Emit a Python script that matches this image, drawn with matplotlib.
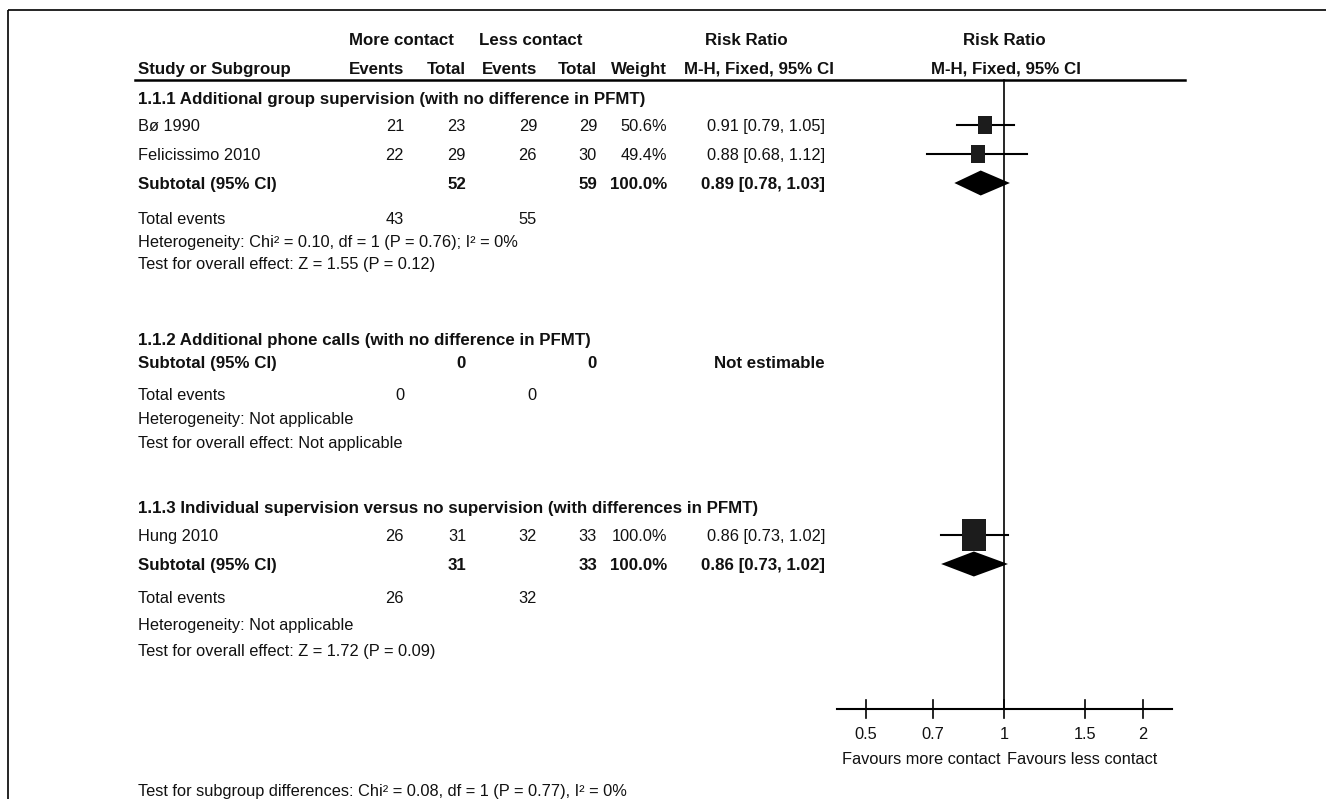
import numpy as np
import matplotlib
matplotlib.use("Agg")
import matplotlib.pyplot as plt
from matplotlib.path import Path
from matplotlib.patches import Polygon

plt.rcParams['font.family'] = ['Liberation Sans', 'DejaVu Sans']

# ---- data -------------------------------------------------------------
studies = ["Bø 1990", "Felicissimo 2010", "Hung 2010"]
study_group = [0, 0, 2]
events_more = [21, 22, 26]
total_more = [23, 29, 31]
events_less = [29, 26, 32]
total_less = [29, 30, 33]
study_weight = [50.6, 49.4, 100.0]
study_rr = [0.91, 0.88, 0.86]
study_lo = [0.79, 0.68, 0.73]
study_hi = [1.05, 1.12, 1.02]

group_titles = [
    "1.1.1 Additional group supervision (with no difference in PFMT)",
    "1.1.2 Additional phone calls (with no difference in PFMT)",
    "1.1.3 Individual supervision versus no supervision (with differences in PFMT)",
]
group_total_more = [52, 0, 31]
group_total_less = [59, 0, 33]
group_events_more = [43, 0, 26]
group_events_less = [55, 0, 32]
group_weight = ["100.0%", "", "100.0%"]
group_rr = [0.89, None, 0.86]
group_lo = [0.78, None, 0.73]
group_hi = [1.03, None, 1.02]
group_heterogeneity = [
    "Heterogeneity: Chi² = 0.10, df = 1 (P = 0.76); I² = 0%",
    "Heterogeneity: Not applicable",
    "Heterogeneity: Not applicable",
]
group_effect = [
    "Test for overall effect: Z = 1.55 (P = 0.12)",
    "Test for overall effect: Not applicable",
    "Test for overall effect: Z = 1.72 (P = 0.09)",
]
subgroup_test = "Test for subgroup differences: Chi² = 0.08, df = 1 (P = 0.77), I² = 0%"

axis_ticks = [0.5, 0.7, 1, 1.5, 2]
axis_ticklabels = ["0.5", "0.7", "1", "1.5", "2"]
favours_left = "Favours more contact"
favours_right = "Favours less contact"

# ---- layout (pixels) --------------------------------------------------
W, H = 1326, 799
FS_REG = 11.8
FS_BOLD = 12.2
x_label = 138
x_ev_more, x_tot_more = 404, 466
x_ev_less, x_tot_less = 537, 597
x_weight = 667
x_rr_right = 825
y_head1, y_head2, y_rule = 39, 68, 80
group_rows = [
    dict(head=98, studies=[125, 154], sub=183, te=218, het=241, eff=263),
    dict(head=339, studies=[], sub=362, te=394, het=418, eff=442),
    dict(head=507, studies=[535], sub=564, te=597, het=624, eff=650),
]
y_axis = 709
y_subgroup = 790

# forest panel: 1.0 at x=1004 px, one doubling = 138.5 px
px_one, px_per_log2 = 1004, 138.5
xlo, xhi = 0.4, 2.5
def px(v):
    return px_one + px_per_log2 * np.log2(v)

fig = plt.figure(figsize=(W / 100, H / 100), dpi=100)
tab = fig.add_axes([0, 0, 1, 1])
tab.set_xlim(0, W)
tab.set_ylim(H, 0)
tab.axis("off")

fx0, fx1 = px(xlo), px(xhi)
fp = fig.add_axes([fx0 / W, 0, (fx1 - fx0) / W, 1])
fp.set_xscale("log")
fp.set_xlim(xlo, xhi)
fp.set_ylim(H, 0)
fp.axis("off")
fp.patch.set_alpha(0)

INK = "#111111"

def t(x, y, s, ha="left", bold=False, ax=None):
    (ax or tab).text(x, y, s, ha=ha, va="center_baseline",
                     fontsize=FS_BOLD if bold else FS_REG,
                     fontweight="bold" if bold else "normal", color=INK)

# frame
tab.plot([8, W], [10, 10], color="black", lw=1.2, solid_capstyle="butt")
tab.plot([8, 8], [10, H], color="black", lw=1.2, solid_capstyle="butt")

# headers
t(401, y_head1, "More contact", ha="center", bold=True)
t(531, y_head1, "Less contact", ha="center", bold=True)
t(746, y_head1, "Risk Ratio", ha="center", bold=True)
t(px_one, y_head1, "Risk Ratio", ha="center", bold=True)
t(x_label, y_head2, "Study or Subgroup", bold=True)
t(x_ev_more, y_head2, "Events", ha="right", bold=True)
t(x_tot_more, y_head2, "Total", ha="right", bold=True)
t(x_ev_less, y_head2, "Events", ha="right", bold=True)
t(x_tot_less, y_head2, "Total", ha="right", bold=True)
t(x_weight, y_head2, "Weight", ha="right", bold=True)
t(759, y_head2, "M-H, Fixed, 95% CI", ha="center", bold=True)
t(px_one + 2, y_head2, "M-H, Fixed, 95% CI", ha="center", bold=True)
tab.plot([x_label - 3, 1185], [y_rule, y_rule], color="black", lw=1.8)

# null line
fp.plot([1, 1], [y_rule, y_axis], color="black", lw=1.2)

def rect_marker():
    a = 0.38
    verts = [(-a, -0.5), (a, -0.5), (a, 0.5), (-a, 0.5), (-a, -0.5)]
    return Path(verts, [Path.MOVETO, Path.LINETO, Path.LINETO, Path.LINETO, Path.CLOSEPOLY])

square = rect_marker()

for g, title in enumerate(group_titles):
    rows = group_rows[g]
    t(x_label, rows["head"], title, bold=True)
    idx = [i for i, sg in enumerate(study_group) if sg == g]
    for i, y in zip(idx, rows["studies"]):
        t(x_label, y, studies[i])
        t(x_ev_more, y, str(events_more[i]), ha="right")
        t(x_tot_more, y, str(total_more[i]), ha="right")
        t(x_ev_less, y, str(events_less[i]), ha="right")
        t(x_tot_less, y, str(total_less[i]), ha="right")
        t(x_weight, y, f"{study_weight[i]:.1f}%", ha="right")
        t(x_rr_right, y, f"{study_rr[i]:.2f} [{study_lo[i]:.2f}, {study_hi[i]:.2f}]", ha="right")
        fp.plot([study_lo[i], study_hi[i]], [y, y], color="black", lw=1.5)
        h_px = 0.78 * study_weight[i] ** 0.8
        fp.plot([study_rr[i]], [y], marker=square, markersize=h_px * 0.72,
                color="#1c1c1c", markeredgewidth=0, linestyle="none")
    ys = rows["sub"]
    t(x_label, ys, "Subtotal (95% CI)", bold=True)
    t(x_tot_more, ys, str(group_total_more[g]), ha="right", bold=True)
    t(x_tot_less, ys, str(group_total_less[g]), ha="right", bold=True)
    if group_rr[g] is None:
        t(x_rr_right, ys, "Not estimable", ha="right", bold=True)
    else:
        t(x_weight, ys, group_weight[g], ha="right", bold=True)
        t(x_rr_right, ys, f"{group_rr[g]:.2f} [{group_lo[g]:.2f}, {group_hi[g]:.2f}]",
          ha="right", bold=True)
        hh = 12.5
        fp.add_patch(Polygon([(group_lo[g], ys), (group_rr[g], ys - hh),
                              (group_hi[g], ys), (group_rr[g], ys + hh)],
                             closed=True, facecolor="black", edgecolor="none"))
    yt = rows["te"]
    t(x_label, yt, "Total events")
    t(x_ev_more, yt, str(group_events_more[g]), ha="right")
    t(x_ev_less, yt, str(group_events_less[g]), ha="right")
    t(x_label, rows["het"], group_heterogeneity[g])
    t(x_label, rows["eff"], group_effect[g])

t(x_label, y_subgroup, subgroup_test)

# log axis drawn by hand in RevMan style
ax_lo, ax_hi = 0.434, 2.32
fp.plot([ax_lo, ax_hi], [y_axis, y_axis], color="black", lw=1.5)
for v, lab in zip(axis_ticks, axis_ticklabels):
    fp.plot([v, v], [y_axis - 9, y_axis + 9], color="black", lw=1.2)
    t(v, y_axis + 24, lab, ha="center", ax=fp)
t(0.985, y_axis + 49, favours_left, ha="right", ax=fp)
t(1.015, y_axis + 49, favours_right, ha="left", ax=fp)

fig.savefig("out.png", dpi=100)
